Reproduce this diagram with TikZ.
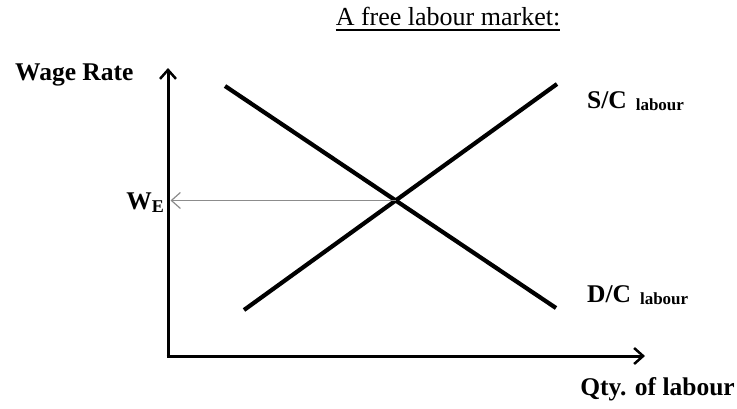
\documentclass[tikz,border=0pt]{standalone}
\usepackage{fontspec}
\setmainfont{Liberation Serif}
\usetikzlibrary{arrows.meta}
\begin{document}
\begin{tikzpicture}[x=1pt,y=-1pt,
  axisline/.style={line width=3pt,-{Straight Barb[length=9pt,width=16pt,line width=2.5pt]}},
  curve/.style={line width=4.2pt},
  guide/.style={line width=1.4pt,draw=black!45,-{Straight Barb[length=9pt,width=16pt,line width=1.2pt]}},
  biglabel/.style={font=\fontsize{25.5}{29}\selectfont\bfseries,inner sep=0pt}]
\useasboundingbox (0,0) rectangle (737,408);
% axes
\coordinate (O) at (168,356);
\coordinate (ytop) at (168,68);
\coordinate (xend) at (645,356);
\draw[axisline] (O |- 0,357.5) -- (ytop);
\draw[axisline] (166.5,356) -- (xend);
% curves
\coordinate (d1) at (225,86);
\coordinate (d2) at (556,308);
\coordinate (s1) at (244,310);
\coordinate (s2) at (557,84);
\draw[curve] (d1) -- (d2);
\draw[curve] (s1) -- (s2);
\coordinate (E) at (intersection of d1--d2 and s1--s2);
\coordinate (EY) at (O |- E);
\draw[guide] (E) -- ([xshift=2.5pt]EY);
% labels
\node[font=\fontsize{26}{30}\selectfont,inner sep=0pt] (title) at (448,17) {A free labour market:};
\draw[line width=1.3pt] ([yshift=-4pt]title.base west) -- ([yshift=-4pt]title.base east);
\node[biglabel,anchor=base west] (wage) at (15,80) {Wage Rate};
\node[biglabel,anchor=base east] (we) at (164,209) {W\raisebox{-3pt}{\fontsize{18}{20}\selectfont E}};
\node[biglabel,anchor=base west] (sc) at (587,108) {S/C\hspace{0.35em}\raisebox{-2pt}{\fontsize{17}{19}\selectfont labour}};
\node[biglabel,anchor=base west] (dc) at (587,302) {D/C\hspace{0.35em}\raisebox{-2pt}{\fontsize{17}{19}\selectfont labour}};
\node[biglabel,anchor=base east] (qty) at (735,395) {Qty. of labour};
\end{tikzpicture}
\end{document}
